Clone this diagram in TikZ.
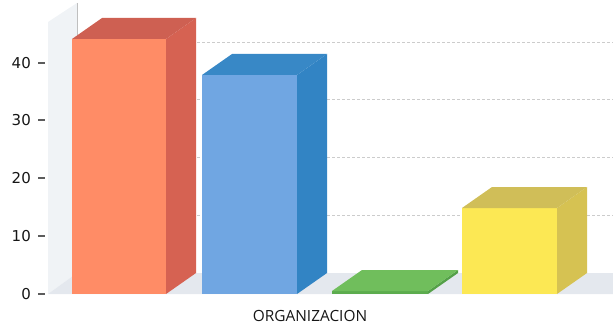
\documentclass[tikz,border=0pt]{standalone}
\usepackage{fontspec}
\setmainfont{DejaVu Sans}
\newfontfamily\labelfont{Open Sans}
\definecolor{orangefront}{RGB}{255,140,102}
\definecolor{orangeside}{RGB}{214,98,82}
\definecolor{orangetop}{RGB}{206,96,82}
\definecolor{bluefront}{RGB}{112,166,226}
\definecolor{blueside}{RGB}{50,132,196}
\definecolor{bluetop}{RGB}{56,136,198}
\definecolor{greenfront}{RGB}{92,172,78}
\definecolor{greenside}{RGB}{84,160,72}
\definecolor{greentop}{RGB}{112,190,92}
\definecolor{yellowfront}{RGB}{252,232,84}
\definecolor{yellowside}{RGB}{214,194,82}
\definecolor{yellowtop}{RGB}{208,190,88}
\definecolor{wallgray}{RGB}{240,243,246}
\definecolor{floorgray}{RGB}{228,232,238}
\definecolor{textgray}{RGB}{22,22,22}
\begin{document}
\begin{tikzpicture}[x=1pt,y=-1pt]
\tikzset{ticklabel/.style = {anchor=east, inner sep=0pt, text=textgray, font=\fontsize{15}{18}\selectfont},
  tickmark/.style = {draw=textgray!70, line width=1.2pt},
  gridline/.style = {draw=gray!40, densely dashed, line width=0.6pt}}
\def\dx{30}
\def\dy{21}
\def\base{294}
\useasboundingbox (0,0) rectangle (613,329);
% walls and floor
\fill[wallgray] (48,22) -- (77,3) -- (77,\base-\dy) -- (48,\base) -- cycle;
\fill[floorgray] (48,\base) -- (77,\base-\dy) -- (613,\base-\dy) -- (613,\base) -- cycle;
\draw[gray!50, line width=0.6pt] (77,3) -- (77,\base-\dy);
\draw[gridline] (77,42) -- (613,42);
\draw[gridline] (77,99) -- (613,99);
\draw[gridline] (77,157) -- (613,157);
\draw[gridline] (77,215) -- (613,215);
% axis labels
\node[ticklabel] (y0) at (31,\base) {0};
\node[ticklabel] (y10) at (31,236) {10};
\node[ticklabel] (y20) at (31,178) {20};
\node[ticklabel] (y30) at (31,120) {30};
\node[ticklabel] (y40) at (31,63) {40};
\draw[tickmark] (38,\base) -- (45,\base);
\draw[tickmark] (38,236) -- (45,236);
\draw[tickmark] (38,178) -- (45,178);
\draw[tickmark] (38,120) -- (45,120);
\draw[tickmark] (38,63) -- (45,63);
% orange bar
\fill[orangefront] (72,\base) rectangle (166,39);
\fill[orangeside] (166,\base) -- (166+\dx,\base-\dy) -- (166+\dx,39-\dy) -- (166,39) -- cycle;
\fill[orangetop] (72,39) -- (72+\dx,39-\dy) -- (166+\dx,39-\dy) -- (166,39) -- cycle;
% blue bar
\fill[bluefront] (202,\base) rectangle (297,75);
\fill[blueside] (297,\base) -- (297+\dx,\base-\dy) -- (297+\dx,75-\dy) -- (297,75) -- cycle;
\fill[bluetop] (202,75) -- (202+\dx,75-\dy) -- (297+\dx,75-\dy) -- (297,75) -- cycle;
% green bar
\fill[greenfront] (332,\base) rectangle (428,291);
\fill[greenside] (428,\base) -- (428+\dx,\base-\dy) -- (428+\dx,291-\dy) -- (428,291) -- cycle;
\fill[greentop] (332,291) -- (332+\dx,291-\dy) -- (428+\dx,291-\dy) -- (428,291) -- cycle;
% yellow bar
\fill[yellowfront] (462,\base) rectangle (557,208);
\fill[yellowside] (557,\base) -- (557+\dx,\base-\dy) -- (557+\dx,208-\dy) -- (557,208) -- cycle;
\fill[yellowtop] (462,208) -- (462+\dx,208-\dy) -- (557+\dx,208-\dy) -- (557,208) -- cycle;
\node[text=textgray, inner sep=0pt, font=\labelfont\fontsize{15.4}{18}\selectfont] (cat) at (310,315.5) {ORGANIZACION};
\end{tikzpicture}
\end{document}
